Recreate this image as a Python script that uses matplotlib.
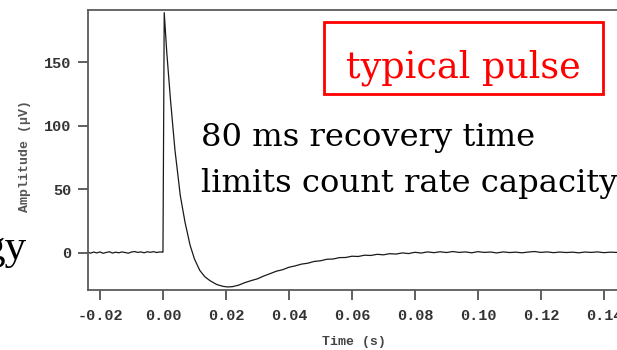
import matplotlib

matplotlib.use("Agg")
import matplotlib.pyplot as plt
from matplotlib.patches import Rectangle

# Baseline before the pulse (s, µV)
pre_t = [-0.0238, -0.023, -0.022, -0.021, -0.020, -0.019, -0.018, -0.017, -0.016, -0.015,
         -0.014, -0.013, -0.012, -0.011, -0.010, -0.009, -0.008, -0.007, -0.006, -0.005,
         -0.004, -0.003, -0.002, -0.001, -0.0002]
pre_v = [0.3, -0.4, 0.5, -0.2, 0.6, -0.5, 0.2, 0.7, -0.3, 0.4,
         -0.1, 0.6, 0.1, -0.4, 0.5, 0.9, 0.2, 0.6, -0.1, 0.7,
         0.3, 0.8, 0.1, 0.6, 0.4]

# Rise, peak and undershoot
pulse_t = [0.0, 0.0004, 0.0012, 0.0024, 0.0038, 0.0055, 0.007, 0.0086, 0.010, 0.0117,
           0.0133, 0.0149, 0.017, 0.019, 0.0205, 0.022, 0.024]
pulse_v = [0.5, 189.0, 158.0, 120.0, 81.0, 45.0, 24.0, 6.0, -5.0, -14.0,
           -19.0, -22.0, -25.0, -26.5, -27.0, -26.8, -25.6]

# Slow recovery back to baseline
tail_t = [0.026, 0.028, 0.030, 0.032, 0.034, 0.036, 0.038, 0.040, 0.042, 0.044,
          0.046, 0.048, 0.050, 0.052, 0.054, 0.056, 0.058, 0.060, 0.062, 0.064,
          0.066, 0.068, 0.070, 0.072, 0.074, 0.076, 0.078, 0.080, 0.082, 0.084,
          0.086, 0.088, 0.090, 0.092, 0.094, 0.096, 0.098, 0.100, 0.102, 0.104,
          0.106, 0.108, 0.110, 0.112, 0.114, 0.116, 0.118, 0.120, 0.122, 0.124,
          0.126, 0.128, 0.130, 0.132, 0.134, 0.136, 0.138, 0.140, 0.142, 0.144, 0.146]
tail_v = [-23.6, -22.0, -20.6, -18.4, -16.5, -14.6, -13.4, -11.5, -10.4, -9.0,
          -8.3, -6.9, -6.4, -5.2, -5.0, -3.9, -3.8, -2.8, -3.0, -2.0,
          -2.2, -1.3, -1.7, -0.8, -1.1, -0.2, -0.7, 0.3, -0.3, 0.6,
          0.0, 0.7, 0.1, 0.9, 0.2, 0.6, -0.1, 0.8, 0.2, 0.5,
          -0.2, 0.6, 0.1, 0.4, -0.1, 0.5, 0.9, 0.2, 0.6, 0.0,
          0.5, 0.1, 0.4, -0.1, 0.5, 0.2, 0.6, 0.0, 0.4, 0.2, 0.5]

x_ticks = [-0.02, 0.00, 0.02, 0.04, 0.06, 0.08, 0.10, 0.12, 0.14]
y_ticks = [0, 50, 100, 150]

plt.rcParams["axes.unicode_minus"] = False
mono = "Liberation Mono"
serif = "DejaVu Serif"

fig = plt.figure(figsize=(6.17, 3.5), dpi=100)
ax = fig.add_axes([88 / 617, 1 - 290 / 350, 532 / 617, 280 / 350])

t = pre_t + pulse_t + tail_t
v = pre_v + pulse_v + tail_v
ax.plot(t, v, color="#1a1a1a", linewidth=0.9)

ax.set_xlim(-0.0238, 0.1451)
ax.set_ylim(-29.4, 191.1)
ax.set_xticks(x_ticks)
ax.set_xticklabels([f"{x:.2f}" for x in x_ticks])
ax.set_yticks(y_ticks)

for side in ["left", "bottom", "top"]:
    ax.spines[side].set_color("#5a5a5a")
    ax.spines[side].set_linewidth(1.3)
ax.spines["right"].set_visible(False)

ax.tick_params(direction="out", length=7, width=1.2, color="#444444",
               labelcolor="#333333", labelsize=11)
ax.tick_params(axis="x", pad=7)
ax.tick_params(axis="y", pad=5)
for lab in ax.get_xticklabels() + ax.get_yticklabels():
    lab.set_family(mono)
    lab.set_weight("bold")

ax.set_xlabel("Time (s)", family=mono, fontsize=9.5, weight="bold", color="#444444")
ax.set_ylabel("Amplitude (µV)", family=mono, fontsize=9.5, weight="bold", color="#555555")
ax.xaxis.set_label_coords(0.5, -0.165)
ax.yaxis.set_label_coords(-0.108, 0.48)

# annotations laid over the plot
fig.text(201 / 617, 1 - 146 / 350, "80 ms recovery time", family=serif,
         fontsize=23.2, color="black", va="baseline")
fig.text(201 / 617, 1 - 192 / 350, "limits count rate capacity", family=serif,
         fontsize=23.2, color="black", va="baseline")

fig.patches.append(Rectangle((324 / 617, 1 - 94 / 350), 279 / 617, 72 / 350,
                             transform=fig.transFigure, fill=False,
                             edgecolor="#ff0000", linewidth=2))
fig.text(463 / 617, 1 - 77 / 350, "typical pulse", family=serif, fontsize=26.3,
         color="#ff0000", ha="center", va="baseline")

fig.text(26 / 617, 1 - 259 / 350, "gy", family="Liberation Serif", fontsize=31,
         color="black", ha="right", va="baseline")

fig.savefig("out.png", dpi=100)
